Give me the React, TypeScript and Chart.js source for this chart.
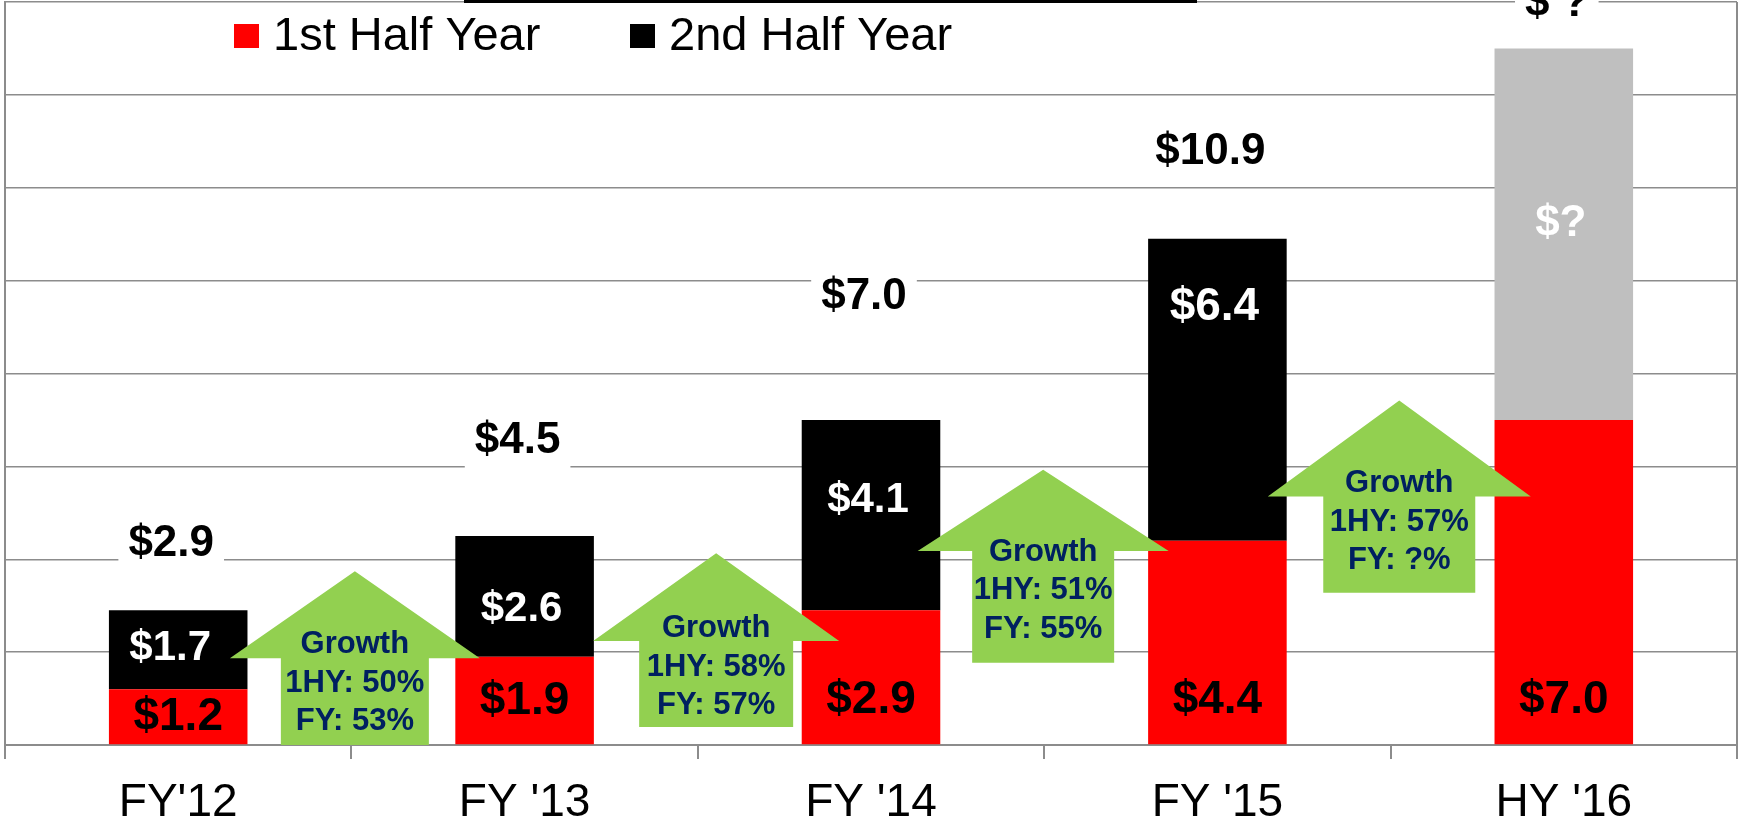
import React, { useEffect, useRef } from 'react';
import { Chart, registerables } from 'chart.js';

Chart.register(...registerables);

// ---- data ----
const categories = ["FY'12", "FY '13", "FY '14", "FY '15", "HY '16"];
const firstHalf = [1.2, 1.9, 2.9, 4.4, 7.0];
const secondHalf = [1.7, 2.6, 4.1, 6.5, 8.0];
const firstHalfLabels = ['$1.2', '$1.9', '$2.9', '$4.4', '$7.0'];
const secondHalfLabels = ['$1.7', '$2.6', '$4.1', '$6.4', '$?'];
const totalLabels = ['$2.9', '$4.5', '$7.0', '$10.9', '$ ?'];
const growth1HY = ['50%', '58%', '51%', '57%'];
const growthFY = ['53%', '57%', '55%', '?%'];
const seriesNames = ['1st Half Year', '2nd Half Year'];

// ---- annotation placement (axis units) ----
const secondHalfLabelAt = [2.07, 2.93, 5.27, 9.43, 11.23];
const totalLabelAt = [4.33, 6.56, 9.65, 12.78, 15.97];
const arrowAt = [0.51, 1.553, 2.497, 3.525];
const arrowTip = [3.74, 4.13, 5.93, 7.42];
const arrowShoulder = [1.87, 2.24, 4.18, 5.35];
const arrowBase = [0, 0.39, 1.77, 3.28];
const arrowTextAt = [2.16, 2.5, 4.15, 5.63];

// ---- styles ----
const FONT = '"Liberation Sans", Arial, sans-serif';
const GRID = '#8c8c8c';
const RED = '#FF0000';
const BLACK = '#000000';
const GREY = '#BFBFBF';
const GREEN = '#92D050';
const NAVY = '#002060';
const secondHalfColors = [BLACK, BLACK, BLACK, BLACK, GREY];
const secondHalfLabelSize = [42, 42, 42, 46, 44];
const arrowHeadW = [250, 246, 251, 263];
const arrowShaftW = [148, 154, 142, 152];

const overlay = {
  id: 'overlay',
  afterDatasetsDraw(chart: any) {
    const ctx = chart.ctx as CanvasRenderingContext2D;
    const xs = chart.scales.x;
    const ys = chart.scales.y;
    const area = chart.chartArea;
    ctx.save();

    // right border of plot
    ctx.strokeStyle = GRID;
    ctx.lineWidth = 2;
    ctx.beginPath();
    ctx.moveTo(area.right, area.top);
    ctx.lineTo(area.right, area.bottom);
    ctx.stroke();

    // growth arrows
    arrowAt.forEach((pos, i) => {
      const cx = xs.getPixelForValue(pos);
      const tip = ys.getPixelForValue(arrowTip[i]);
      const sh = ys.getPixelForValue(arrowShoulder[i]);
      const bt = ys.getPixelForValue(arrowBase[i]);
      const hw = arrowHeadW[i] / 2;
      const sw = arrowShaftW[i] / 2;
      ctx.fillStyle = GREEN;
      ctx.beginPath();
      ctx.moveTo(cx, tip);
      ctx.lineTo(cx + hw, sh);
      ctx.lineTo(cx + sw, sh);
      ctx.lineTo(cx + sw, bt);
      ctx.lineTo(cx - sw, bt);
      ctx.lineTo(cx - sw, sh);
      ctx.lineTo(cx - hw, sh);
      ctx.closePath();
      ctx.fill();
      ctx.fillStyle = NAVY;
      ctx.font = `bold 31px ${FONT}`;
      ctx.textAlign = 'center';
      ctx.textBaseline = 'middle';
      const ty = ys.getPixelForValue(arrowTextAt[i]);
      const lines = ['Growth', `1HY: ${growth1HY[i]}`, `FY: ${growthFY[i]}`];
      lines.forEach((t, k) => ctx.fillText(t, cx, ty + k * 38.5));
    });

    // segment labels
    ctx.textAlign = 'center';
    ctx.textBaseline = 'middle';
    const m0 = chart.getDatasetMeta(0);
    const m1 = chart.getDatasetMeta(1);
    const base = ys.getPixelForValue(0);
    m0.data.forEach((bar: any, i: number) => {
      const top = ys.getPixelForValue(firstHalf[i]);
      const cy = Math.max((base + top) / 2, base - 45);
      ctx.font = `bold 46px ${FONT}`;
      ctx.fillStyle = BLACK;
      ctx.fillText(firstHalfLabels[i], bar.x, cy);
    });
    m1.data.forEach((bar: any, i: number) => {
      ctx.font = `bold ${secondHalfLabelSize[i]}px ${FONT}`;
      ctx.fillStyle = '#FFFFFF';
      ctx.fillText(secondHalfLabels[i], bar.x - (i === 0 ? 8 : 3), ys.getPixelForValue(secondHalfLabelAt[i]));
    });

    // total labels with white boxes
    m0.data.forEach((bar: any, i: number) => {
      ctx.font = `bold 44px ${FONT}`;
      const cx = bar.x - 7;
      const cy = ys.getPixelForValue(totalLabelAt[i]);
      const w = ctx.measureText(totalLabels[i]).width + 20;
      ctx.fillStyle = '#FFFFFF';
      ctx.fillRect(cx - w / 2, cy - 28, w, 56);
      ctx.fillStyle = BLACK;
      ctx.fillText(totalLabels[i], cx, cy);
    });

    ctx.restore();
  },
  afterDraw(chart: any) {
    const ctx = chart.ctx as CanvasRenderingContext2D;
    ctx.save();
    // black rule at top
    ctx.fillStyle = BLACK;
    ctx.fillRect(464, 0, 733, 3);
    // legend
    ctx.font = `47px ${FONT}`;
    ctx.textAlign = 'left';
    ctx.textBaseline = 'alphabetic';
    const items = [
      { x: 234, color: RED, text: seriesNames[0] },
      { x: 630, color: BLACK, text: seriesNames[1] },
    ];
    items.forEach((it) => {
      ctx.fillStyle = it.color;
      ctx.fillRect(it.x, 24, 25, 24);
      ctx.fillStyle = BLACK;
      ctx.fillText(it.text, it.x + 39, 50);
    });
    ctx.restore();
  },
};

export default function App() {
  const ref = useRef<HTMLCanvasElement>(null);
  useEffect(() => {
    if (!ref.current) return;
    const chart = new Chart(ref.current, {
      type: 'bar',
      data: {
        labels: categories,
        datasets: [
          { label: seriesNames[0], data: firstHalf, backgroundColor: RED, borderWidth: 0 },
          { label: seriesNames[1], data: secondHalf, backgroundColor: secondHalfColors, borderWidth: 0 },
        ],
      },
      options: {
        responsive: false,
        animation: false,
        events: [],
        layout: { padding: { left: 5, right: 4, top: 2, bottom: 0 } },
        datasets: { bar: { barPercentage: 0.4, categoryPercentage: 1 } },
        plugins: { legend: { display: false }, tooltip: { enabled: false } },
        scales: {
          x: {
            stacked: true,
            afterFit: (s: any) => { s.height = 80; },
            grid: { drawOnChartArea: false, drawTicks: true, tickLength: 14, color: GRID, lineWidth: 2, offset: true },
            border: { color: GRID, width: 2 },
            ticks: { color: BLACK, font: { family: FONT, size: 46 }, padding: 17, maxRotation: 0, autoSkip: false },
          },
          y: {
            stacked: true,
            min: 0,
            max: 16,
            ticks: { display: false, stepSize: 2 },
            grid: { color: GRID, lineWidth: 1.5, drawTicks: false },
            border: { color: GRID, width: 2 },
          },
        },
      },
      plugins: [overlay],
    } as any);
    return () => chart.destroy();
  }, []);
  return (
    <div style={{ position: 'fixed', left: 0, top: 0, width: 1741, height: 825, background: '#fff' }}>
      <canvas ref={ref} width={1741} height={825} style={{ display: 'block' }} />
    </div>
  );
}
